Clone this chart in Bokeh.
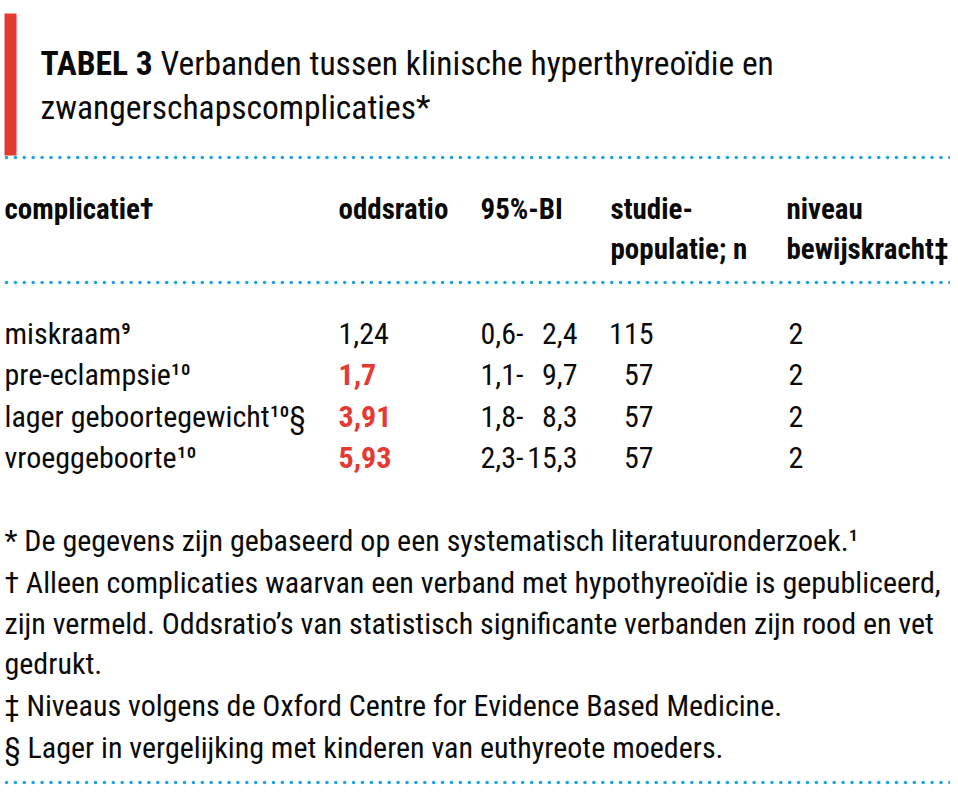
import numpy as np
from bokeh.plotting import figure
from bokeh.models import Range1d, ColumnDataSource
from bokeh.core.properties import value
from bokeh.embed import file_html
from bokeh.resources import INLINE

# ---- data ----
title_bold = "TABEL 3"
title_line1 = "Verbanden tussen klinische hyperthyreoïdie en"
title_line2 = "zwangerschapscomplicaties*"
headers_line1 = ["complicatie†", "oddsratio", "95%-BI", "studie-", "niveau"]
headers_line2 = ["", "", "", "populatie; n", "bewijskracht‡"]
complicaties = ["miskraam⁹", "pre-eclampsie¹⁰", "lager geboortegewicht¹⁰§", "vroeggeboorte¹⁰"]
oddsratio = ["1,24", "1,7", "3,91", "5,93"]
significant = [False, True, True, True]
ci_low = ["0,6", "1,1", "1,8", "2,3"]
ci_high = ["2,4", "9,7", "8,3", "15,3"]
n_pop = [115, 57, 57, 57]
niveau = [2, 2, 2, 2]
footnotes = [
    "* De gegevens zijn gebaseerd op een systematisch literatuuronderzoek.¹",
    "† Alleen complicaties waarvan een verband met hypothyreoïdie is gepubliceerd,",
    "zijn vermeld. Oddsratio’s van statistisch significante verbanden zijn rood en vet",
    "gedrukt.",
    "‡ Niveaus volgens de Oxford Centre for Evidence Based Medicine.",
    "§ Lager in vergelijking met kinderen van euthyreote moeders.",
]

# ---- style ----
FONT = value("Roboto Condensed")
RED = "#e43a32"
BLUE = "#1ea6de"
TXT = "#0a0a0a"
FS = "30px"
HFS = "29px"
TFS = "33.5px"

W, H = 950, 796
p = figure(width=W, height=H, x_range=Range1d(0, W), y_range=Range1d(H, 0),
           output_backend="svg", toolbar_location=None, min_border=0)
p.axis.visible = False
p.grid.visible = False
p.outline_line_color = None
p.background_fill_color = "white"
p.border_fill_color = "white"

# red side bar
p.quad(left=[4], right=[16], top=[13], bottom=[155], fill_color=RED, line_color=None)

# title
p.text(x=[40], y=[63], text=[title_bold], text_font=FONT, text_font_style="bold",
       text_font_size=TFS, text_color=TXT, text_baseline="alphabetic")
p.text(x=[160], y=[63], text=[title_line1], text_font=FONT,
       text_font_size=TFS, text_color=TXT, text_baseline="alphabetic")
p.text(x=[40], y=[107], text=[title_line2], text_font=FONT,
       text_font_size=TFS, text_color=TXT, text_baseline="alphabetic")

# dotted rules
for yy in [157, 282, 782]:
    xs = np.arange(6, 950, 8.9)
    p.scatter(x=xs, y=np.full(len(xs), yy), size=3.6, fill_color=BLUE, line_color=None)

# headers
col_x = [4, 338, 480, 610, 786]
p.text(x=col_x, y=[208] * 5, text=headers_line1, text_font=FONT, text_font_style="bold",
       text_font_size=HFS, text_color=TXT, text_baseline="alphabetic")
p.text(x=col_x, y=[248] * 5, text=headers_line2, text_font=FONT, text_font_style="bold",
       text_font_size=HFS, text_color=TXT, text_baseline="alphabetic")

# rows
row_y = [333 + 41.3 * i for i in range(len(complicaties))]
src = ColumnDataSource(dict(
    y=row_y, comp=complicaties, odds=oddsratio,
    odds_color=[RED if s else TXT for s in significant],
    odds_style=["bold" if s else "normal" for s in significant],
    lo=[v + "-" for v in ci_low], hi=ci_high,
    n=[str(v) for v in n_pop], niv=[str(v) for v in niveau],
))
common = dict(text_font=FONT, text_font_size=FS, text_baseline="alphabetic", source=src)
p.text(x=4, y="y", text="comp", text_color=TXT, **common)
p.text(x=338, y="y", text="odds", text_color="odds_color", text_font_style="odds_style", **common)
p.text(x=480, y="y", text="lo", text_color=TXT, **common)
p.text(x=577, y="y", text="hi", text_color=TXT, text_align="right", **common)
p.text(x=653, y="y", text="n", text_color=TXT, text_align="right", **common)
p.text(x=788, y="y", text="niv", text_color=TXT, **common)

# footnotes
fy = [540, 582, 623, 663, 705, 747]
p.text(x=[4] * len(footnotes), y=fy, text=footnotes, text_font=FONT, text_font_size=FS,
       text_color=TXT, text_baseline="alphabetic")

open("out.html", "w").write(file_html(p, INLINE))
